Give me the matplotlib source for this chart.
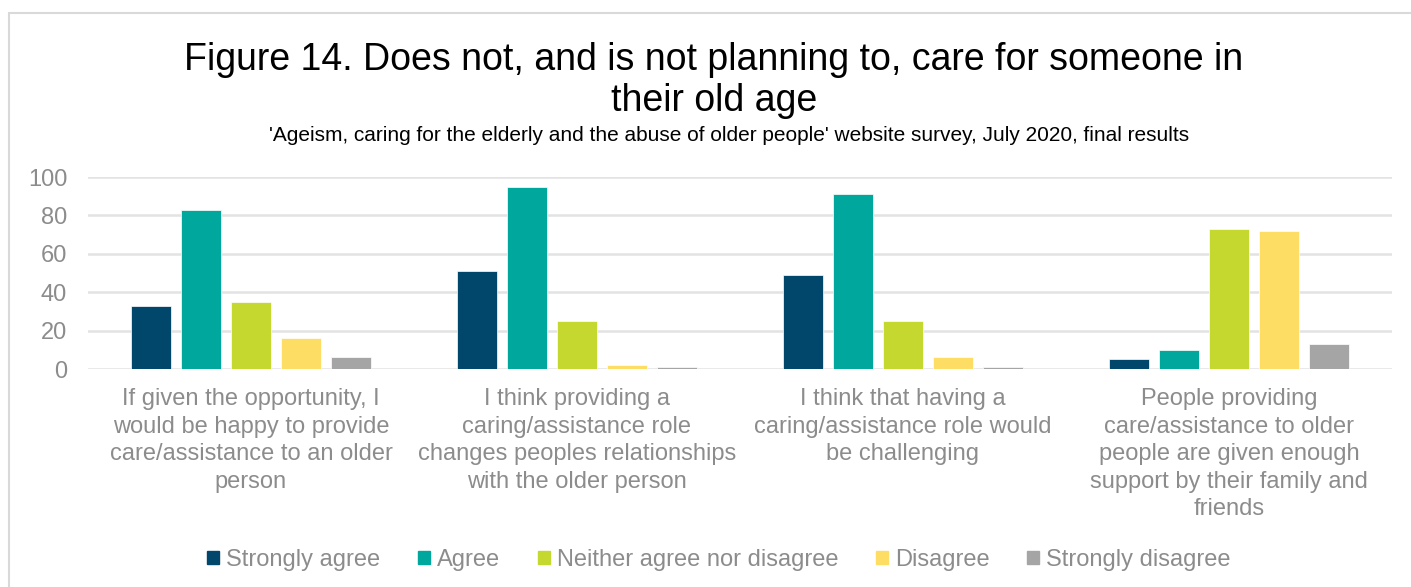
import matplotlib
matplotlib.use("Agg")
import matplotlib.pyplot as plt
from matplotlib.patches import Rectangle
import numpy as np

plt.rcParams['font.family'] = ['Liberation Sans', 'DejaVu Sans']

categories = [
    "If given the opportunity, I\nwould be happy to provide\ncare/assistance to an older\nperson",
    "I think providing a\ncaring/assistance role\nchanges peoples relationships\nwith the older person",
    "I think that having a\ncaring/assistance role would\nbe challenging",
    "People providing\ncare/assistance to older\npeople are given enough\nsupport by their family and\nfriends",
]
series_names = ["Strongly agree", "Agree", "Neither agree nor disagree",
                "Disagree", "Strongly disagree"]
strongly_agree = [33, 51, 49, 5]
agree = [83, 95, 91, 10]
neither = [35, 25, 25, 73]
disagree = [16, 2, 6, 72]
strongly_disagree = [6, 1, 1, 13]
series_values = [strongly_agree, agree, neither, disagree, strongly_disagree]
colors = ["#00476B", "#00A79D", "#C5D82F", "#FDDD63", "#A5A5A5"]
y_ticks = [0, 20, 40, 60, 80, 100]

W, H = 1411, 587
fig = plt.figure(figsize=(W / 100, H / 100), dpi=100)
fig.patch.set_facecolor("white")

# chart frame
fig.patches.append(Rectangle((9 / W, -0.05), 1.2, 1 - 13 / H + 0.05,
                             transform=fig.transFigure, fill=False,
                             edgecolor="#d9d9d9", linewidth=1.5))

ax = fig.add_axes([88 / W, 1 - 369 / H, (1392 - 88) / W, (369 - 177) / H])

x = np.arange(len(categories))
step = 50 / 326
width = 40 / 326
for i, (name, vals, c) in enumerate(zip(series_names, series_values, colors)):
    ax.bar(x + (i - 2) * step, vals, width=width, color=c, label=name,
           edgecolor="white", linewidth=0.5, zorder=3)

ax.set_xlim(-0.5, len(categories) - 0.5)
ax.set_ylim(0, 100)
ax.set_yticks(y_ticks)
ax.yaxis.grid(True, color="#e3e3e3", linewidth=1.8, zorder=0)
ax.set_axisbelow(True)
for s in ax.spines.values():
    s.set_visible(False)
ax.tick_params(axis="both", length=0, labelsize=17, labelcolor="#8c8c8c")
ax.tick_params(axis="y", pad=15)
ax.tick_params(axis="x", pad=14)
ax.set_xticks(x)
ax.set_xticklabels(categories, linespacing=1.32, va="top")

fig.text(714 / W, 1 - 70 / H,
         "Figure 14. Does not, and is not planning to, care for someone in",
         ha="center", va="baseline", fontsize=27, color="black")
fig.text(714 / W, 1 - 111 / H, "their old age",
         ha="center", va="baseline", fontsize=27, color="black")
fig.text(729 / W, 1 - 141 / H,
         "'Ageism, caring for the elderly and the abuse of older people' website survey, July 2020, final results",
         ha="center", va="baseline", fontsize=15, color="black")

handles = [Rectangle((0, 0), 1, 1, color=c) for c in colors]
fig.legend(handles, series_names, loc="center",
           bbox_to_anchor=(719 / W, 1 - 560 / H), ncol=5, frameon=False,
           fontsize=17, labelcolor="#8c8c8c", handlelength=0.5,
           handleheight=0.5, handletextpad=0.3, columnspacing=1.6,
           borderaxespad=0, borderpad=0)

fig.savefig("out.png", dpi=100, facecolor="white")
